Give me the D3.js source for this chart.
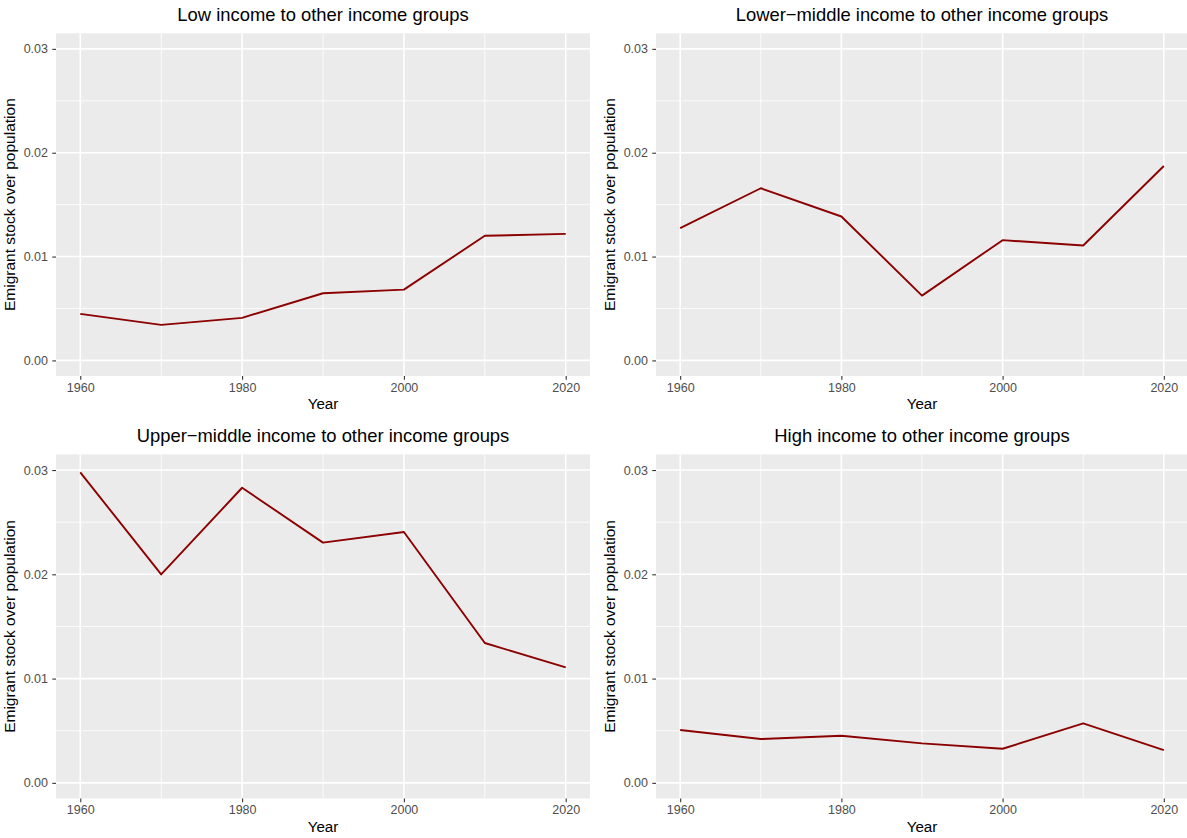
<!DOCTYPE html>
<html>
<head>
<meta charset="utf-8">
<script src="https://cdn.jsdelivr.net/npm/d3@7"></script>
<style>
  body { margin: 0; background: #fff; }
  svg { display: block; font-family: "Liberation Sans", Arial, sans-serif; }
</style>
</head>
<body>
<svg id="chart" width="1187" height="838"></svg>
<script>
// Years shared by all panels
const years = [1960, 1970, 1980, 1990, 2000, 2010, 2020];

// Emigrant stock over population, one array per income group
const lowIncome = [0.00448, 0.00342, 0.00410, 0.00647, 0.00682, 0.01200, 0.01219];
const lowerMiddle = [0.01274, 0.01658, 0.01386, 0.00624, 0.01158, 0.01107, 0.01872];
const upperMiddle = [0.02978, 0.01999, 0.02830, 0.02304, 0.02406, 0.01341, 0.01107];
const highIncome = [0.00507, 0.00420, 0.00452, 0.00379, 0.00327, 0.00571, 0.00314];

const panelTitles = [
  "Low income to other income groups",
  "Lower\u2212middle income to other income groups",
  "Upper\u2212middle income to other income groups",
  "High income to other income groups"
];
const panelSeries = [lowIncome, lowerMiddle, upperMiddle, highIncome];

// Tick labels
const xTicks = [1960, 1980, 2000, 2020];
const xMinor = [1970, 1990, 2010];
const yTicks = [0, 0.01, 0.02, 0.03];
const yMinor = [0.005, 0.015, 0.025];

const svg = d3.select("#chart");

// Panel frames (2 x 2 grid)
const colLeft = [56, 656];
const colRight = [590, 1188];
const rowTop = [33.3, 454.4];
const rowBottom = [376, 798.5];

panelSeries.forEach((values, i) => {
  const col = i % 2;
  const row = Math.floor(i / 2);
  const left = colLeft[col], right = colRight[col];
  const top = rowTop[row], bottom = rowBottom[row];

  const x = d3.scaleLinear().domain([1957, 2023]).range([left, right]);
  const y = d3.scaleLinear().domain([-0.0015, 0.0315]).range([bottom, top]);

  const g = svg.append("g");

  // Panel background
  g.append("rect")
    .attr("x", left).attr("y", top)
    .attr("width", right - left).attr("height", bottom - top)
    .attr("fill", "#EBEBEB");

  // Minor grid
  g.selectAll(".ymin").data(yMinor).join("line")
    .attr("x1", left).attr("x2", right)
    .attr("y1", d => y(d)).attr("y2", d => y(d))
    .attr("stroke", "#fff").attr("stroke-width", 0.8);
  g.selectAll(".xmin").data(xMinor).join("line")
    .attr("y1", top).attr("y2", bottom)
    .attr("x1", d => x(d)).attr("x2", d => x(d))
    .attr("stroke", "#fff").attr("stroke-width", 0.8);

  // Major grid
  g.selectAll(".ymaj").data(yTicks).join("line")
    .attr("x1", left).attr("x2", right)
    .attr("y1", d => y(d)).attr("y2", d => y(d))
    .attr("stroke", "#fff").attr("stroke-width", 1.6);
  g.selectAll(".xmaj").data(xTicks).join("line")
    .attr("y1", top).attr("y2", bottom)
    .attr("x1", d => x(d)).attr("x2", d => x(d))
    .attr("stroke", "#fff").attr("stroke-width", 1.6);

  // Data line
  const line = d3.line()
    .x((d, j) => x(years[j]))
    .y(d => y(d));
  g.append("path")
    .datum(values)
    .attr("fill", "none")
    .attr("stroke", "#8B0000")
    .attr("stroke-width", 1.9)
    .attr("stroke-linejoin", "round")
    .attr("d", line);

  // Axes
  const xAxis = g.append("g")
    .attr("transform", `translate(0,${bottom})`)
    .call(d3.axisBottom(x).tickValues(xTicks).tickFormat(d3.format("d"))
      .tickSize(3.7).tickPadding(3));
  const yAxis = g.append("g")
    .attr("transform", `translate(${left},0)`)
    .call(d3.axisLeft(y).tickValues(yTicks).tickFormat(d3.format(".2f"))
      .tickSize(3.7).tickPadding(4.3));
  [xAxis, yAxis].forEach(a => {
    a.select(".domain").remove();
    a.selectAll(".tick line").attr("stroke", "#333333").attr("stroke-width", 1.1);
    a.selectAll(".tick text")
      .attr("fill", "#4D4D4D")
      .style("font-size", "12.5px")
      .style("font-family", "'Liberation Sans', Arial, sans-serif");
  });

  // Panel title
  g.append("text")
    .attr("x", (left + right) / 2)
    .attr("y", top - 12.3)
    .attr("text-anchor", "middle")
    .style("font-size", "18.4px")
    .attr("fill", "#000")
    .text(panelTitles[i]);

  // X axis title
  g.append("text")
    .attr("x", (left + right) / 2)
    .attr("y", bottom + 33.3)
    .attr("text-anchor", "middle")
    .style("font-size", "15.2px")
    .attr("fill", "#000")
    .text("Year");

  // Y axis title
  g.append("text")
    .attr("transform", `translate(${left - 41},${(top + bottom) / 2}) rotate(-90)`)
    .attr("text-anchor", "middle")
    .style("font-size", "15.5px")
    .attr("fill", "#000")
    .text("Emigrant stock over population");
});
</script>
</body>
</html>
